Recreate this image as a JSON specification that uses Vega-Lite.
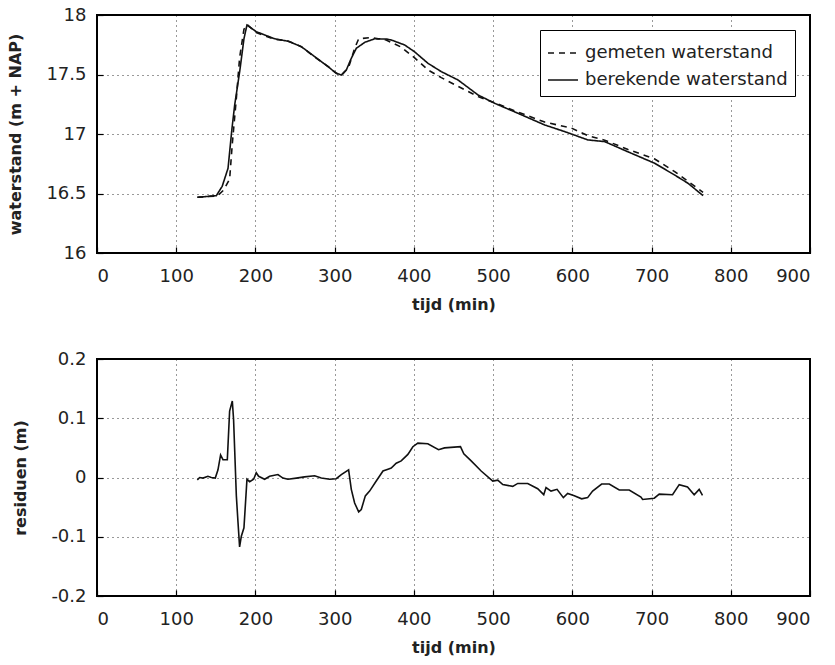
{
  "$schema": "https://vega.github.io/schema/vega-lite/v6.json",
  "background": "white",
  "padding": {"left": 6, "top": 5, "right": 5, "bottom": 5},
  "config": {
    "font": "DejaVu Sans",
    "view": {"stroke": "#000", "strokeWidth": 2},
    "axis": {
      "grid": true, "gridDash": [1, 4], "gridColor": "#000", "gridOpacity": 0.8, "gridWidth": 1,
      "domain": false, "ticks": true, "tickSize": -6, "tickColor": "#000", "tickWidth": 1.2,
      "labelFont": "DejaVu Sans", "labelFontSize": 18, "labelColor": "#222",
      "labelExpr": "'' + datum.value",
      "titleFont": "DejaVu Sans", "titleFontSize": 16, "titleFontWeight": "bold", "titleColor": "#222"
    },
    "axisX": {"labelPadding": 20, "titlePadding": 11},
    "axisY": {"labelPadding": 17, "titlePadding": 22},
    "legend": {"labelFont": "DejaVu Sans", "labelFontSize": 18, "labelColor": "#222"}
  },
  "datasets": {
    "waterstand": [
      {"t": 126.7, "v": 16.468, "serie": "berekende waterstand"},
      {"t": 150.6, "v": 16.482, "serie": "berekende waterstand"},
      {"t": 158, "v": 16.56, "serie": "berekende waterstand"},
      {"t": 165.4, "v": 16.712, "serie": "berekende waterstand"},
      {"t": 170.4, "v": 17.048, "serie": "berekende waterstand"},
      {"t": 173.8, "v": 17.244, "serie": "berekende waterstand"},
      {"t": 180.1, "v": 17.524, "serie": "berekende waterstand"},
      {"t": 185.6, "v": 17.804, "serie": "berekende waterstand"},
      {"t": 189.3, "v": 17.916, "serie": "berekende waterstand"},
      {"t": 201, "v": 17.86, "serie": "berekende waterstand"},
      {"t": 224.3, "v": 17.8, "serie": "berekende waterstand"},
      {"t": 241, "v": 17.78, "serie": "berekende waterstand"},
      {"t": 257.9, "v": 17.734, "serie": "berekende waterstand"},
      {"t": 274.8, "v": 17.65, "serie": "berekende waterstand"},
      {"t": 291.6, "v": 17.566, "serie": "berekende waterstand"},
      {"t": 302, "v": 17.51, "serie": "berekende waterstand"},
      {"t": 308.4, "v": 17.496, "serie": "berekende waterstand"},
      {"t": 314.7, "v": 17.538, "serie": "berekende waterstand"},
      {"t": 321, "v": 17.636, "serie": "berekende waterstand"},
      {"t": 327.3, "v": 17.72, "serie": "berekende waterstand"},
      {"t": 337.9, "v": 17.77, "serie": "berekende waterstand"},
      {"t": 350.5, "v": 17.8, "serie": "berekende waterstand"},
      {"t": 365.2, "v": 17.798, "serie": "berekende waterstand"},
      {"t": 371.5, "v": 17.79, "serie": "berekende waterstand"},
      {"t": 388.4, "v": 17.748, "serie": "berekende waterstand"},
      {"t": 401, "v": 17.69, "serie": "berekende waterstand"},
      {"t": 417.8, "v": 17.594, "serie": "berekende waterstand"},
      {"t": 434.6, "v": 17.524, "serie": "berekende waterstand"},
      {"t": 455.7, "v": 17.454, "serie": "berekende waterstand"},
      {"t": 481, "v": 17.328, "serie": "berekende waterstand"},
      {"t": 502, "v": 17.258, "serie": "berekende waterstand"},
      {"t": 531.4, "v": 17.174, "serie": "berekende waterstand"},
      {"t": 565.1, "v": 17.076, "serie": "berekende waterstand"},
      {"t": 590.4, "v": 17.02, "serie": "berekende waterstand"},
      {"t": 619.8, "v": 16.95, "serie": "berekende waterstand"},
      {"t": 640.9, "v": 16.936, "serie": "berekende waterstand"},
      {"t": 670.3, "v": 16.85, "serie": "berekende waterstand"},
      {"t": 704, "v": 16.754, "serie": "berekende waterstand"},
      {"t": 729.2, "v": 16.655, "serie": "berekende waterstand"},
      {"t": 746, "v": 16.586, "serie": "berekende waterstand"},
      {"t": 765, "v": 16.482, "serie": "berekende waterstand"},
      {"t": 126.7, "v": 16.468, "serie": "gemeten waterstand"},
      {"t": 152, "v": 16.48, "serie": "gemeten waterstand"},
      {"t": 160, "v": 16.53, "serie": "gemeten waterstand"},
      {"t": 167.4, "v": 16.62, "serie": "gemeten waterstand"},
      {"t": 170.8, "v": 16.92, "serie": "gemeten waterstand"},
      {"t": 175.9, "v": 17.3, "serie": "gemeten waterstand"},
      {"t": 180, "v": 17.64, "serie": "gemeten waterstand"},
      {"t": 185.5, "v": 17.88, "serie": "gemeten waterstand"},
      {"t": 189.3, "v": 17.92, "serie": "gemeten waterstand"},
      {"t": 201, "v": 17.852, "serie": "gemeten waterstand"},
      {"t": 224.3, "v": 17.796, "serie": "gemeten waterstand"},
      {"t": 241, "v": 17.782, "serie": "gemeten waterstand"},
      {"t": 257.9, "v": 17.734, "serie": "gemeten waterstand"},
      {"t": 274.8, "v": 17.647, "serie": "gemeten waterstand"},
      {"t": 291.6, "v": 17.568, "serie": "gemeten waterstand"},
      {"t": 302, "v": 17.512, "serie": "gemeten waterstand"},
      {"t": 308.4, "v": 17.492, "serie": "gemeten waterstand"},
      {"t": 317.6, "v": 17.56, "serie": "gemeten waterstand"},
      {"t": 325.2, "v": 17.72, "serie": "gemeten waterstand"},
      {"t": 330.3, "v": 17.8, "serie": "gemeten waterstand"},
      {"t": 346, "v": 17.81, "serie": "gemeten waterstand"},
      {"t": 365, "v": 17.79, "serie": "gemeten waterstand"},
      {"t": 384, "v": 17.73, "serie": "gemeten waterstand"},
      {"t": 401, "v": 17.64, "serie": "gemeten waterstand"},
      {"t": 417.8, "v": 17.538, "serie": "gemeten waterstand"},
      {"t": 434.6, "v": 17.474, "serie": "gemeten waterstand"},
      {"t": 455.7, "v": 17.4, "serie": "gemeten waterstand"},
      {"t": 481, "v": 17.315, "serie": "gemeten waterstand"},
      {"t": 502, "v": 17.262, "serie": "gemeten waterstand"},
      {"t": 531.4, "v": 17.184, "serie": "gemeten waterstand"},
      {"t": 565.1, "v": 17.1, "serie": "gemeten waterstand"},
      {"t": 598.9, "v": 17.05, "serie": "gemeten waterstand"},
      {"t": 619.8, "v": 16.985, "serie": "gemeten waterstand"},
      {"t": 640.9, "v": 16.948, "serie": "gemeten waterstand"},
      {"t": 670.3, "v": 16.87, "serie": "gemeten waterstand"},
      {"t": 704, "v": 16.79, "serie": "gemeten waterstand"},
      {"t": 729.2, "v": 16.684, "serie": "gemeten waterstand"},
      {"t": 746, "v": 16.602, "serie": "gemeten waterstand"},
      {"t": 765, "v": 16.51, "serie": "gemeten waterstand"}
    ],
    "residu": [
      {"t": 126.6, "r": -0.004}, {"t": 129.6, "r": 0.0}, {"t": 133.8, "r": -0.001}, {"t": 140, "r": 0.002},
      {"t": 144.3, "r": 0.0}, {"t": 149.3, "r": -0.001}, {"t": 152.7, "r": 0.013}, {"t": 156, "r": 0.038},
      {"t": 159, "r": 0.03}, {"t": 164.5, "r": 0.03}, {"t": 167.4, "r": 0.112}, {"t": 170.8, "r": 0.129},
      {"t": 172.4, "r": 0.098}, {"t": 175.9, "r": -0.031}, {"t": 178, "r": -0.076}, {"t": 180, "r": -0.117},
      {"t": 182.2, "r": -0.099}, {"t": 185.5, "r": -0.085}, {"t": 189.3, "r": -0.003}, {"t": 192.7, "r": -0.007},
      {"t": 197.7, "r": -0.003}, {"t": 201, "r": 0.008}, {"t": 204, "r": 0.002}, {"t": 211.6, "r": -0.003},
      {"t": 217.9, "r": 0.002}, {"t": 228.4, "r": 0.005}, {"t": 234.7, "r": -0.001}, {"t": 241, "r": -0.003},
      {"t": 251.6, "r": -0.001}, {"t": 262, "r": 0.001}, {"t": 274.7, "r": 0.003}, {"t": 283.1, "r": -0.001},
      {"t": 293.6, "r": -0.003}, {"t": 302, "r": -0.002}, {"t": 308.4, "r": 0.005}, {"t": 317.6, "r": 0.013},
      {"t": 321, "r": -0.02}, {"t": 325.2, "r": -0.043}, {"t": 330.3, "r": -0.058}, {"t": 333.6, "r": -0.054},
      {"t": 338.7, "r": -0.031}, {"t": 344.1, "r": -0.023}, {"t": 352.5, "r": -0.006}, {"t": 361, "r": 0.011},
      {"t": 367.3, "r": 0.014}, {"t": 371.4, "r": 0.016}, {"t": 377.7, "r": 0.024}, {"t": 384, "r": 0.028},
      {"t": 392.4, "r": 0.039}, {"t": 398.7, "r": 0.052}, {"t": 405, "r": 0.058}, {"t": 417.6, "r": 0.057},
      {"t": 431.1, "r": 0.047}, {"t": 438.7, "r": 0.05}, {"t": 458.8, "r": 0.052}, {"t": 463, "r": 0.04},
      {"t": 472.3, "r": 0.028}, {"t": 484.9, "r": 0.011}, {"t": 499.6, "r": -0.006}, {"t": 505.9, "r": -0.0045},
      {"t": 512.2, "r": -0.012}, {"t": 524.8, "r": -0.015}, {"t": 531.1, "r": -0.01}, {"t": 543.7, "r": -0.01},
      {"t": 556.3, "r": -0.019}, {"t": 563.9, "r": -0.029}, {"t": 566.8, "r": -0.017}, {"t": 573.1, "r": -0.023},
      {"t": 580.7, "r": -0.02}, {"t": 588.7, "r": -0.034}, {"t": 594.1, "r": -0.027}, {"t": 602.5, "r": -0.031},
      {"t": 611.8, "r": -0.036}, {"t": 619.3, "r": -0.034}, {"t": 625.6, "r": -0.023}, {"t": 637, "r": -0.011},
      {"t": 646.6, "r": -0.011}, {"t": 659.2, "r": -0.021}, {"t": 671.8, "r": -0.021}, {"t": 686.6, "r": -0.033},
      {"t": 688.7, "r": -0.037}, {"t": 703.4, "r": -0.035}, {"t": 709.7, "r": -0.028}, {"t": 726.5, "r": -0.029},
      {"t": 734.9, "r": -0.012}, {"t": 745.4, "r": -0.016}, {"t": 753.8, "r": -0.029}, {"t": 760.1, "r": -0.02},
      {"t": 764.3, "r": -0.03}
    ]
  },
  "bounds": "flush",
  "spacing": 106,
  "vconcat": [
    {
      "width": 713, "height": 238,
      "data": {"name": "waterstand"},
      "mark": {"type": "line", "color": "#111", "strokeWidth": 1.6},
      "encoding": {
        "x": {"field": "t", "type": "quantitative", "title": "tijd (min)",
              "scale": {"domain": [0, 900], "nice": false},
              "axis": {"values": [0, 100, 200, 300, 400, 500, 600, 700, 800, 900]}},
        "y": {"field": "v", "type": "quantitative", "title": "waterstand (m + NAP)",
              "scale": {"domain": [16, 18], "nice": false, "zero": false},
              "axis": {"values": [16, 16.5, 17, 17.5, 18]}},
        "strokeDash": {"field": "serie", "type": "nominal",
          "scale": {"domain": ["gemeten waterstand", "berekende waterstand"], "range": [[6, 5], [1, 0]]},
          "legend": {"title": null, "orient": "top-right", "offset": 15,
            "strokeColor": "#000", "fillColor": "white", "padding": 7,
            "symbolType": "stroke", "symbolSize": 900, "symbolStrokeColor": "#111", "symbolStrokeWidth": 1.6,
            "labelFontSize": 18, "labelLimit": 400, "labelOffset": 6, "rowPadding": 2}}
      }
    },
    {
      "width": 713, "height": 237,
      "data": {"name": "residu"},
      "mark": {"type": "line", "color": "#111", "strokeWidth": 1.6},
      "encoding": {
        "x": {"field": "t", "type": "quantitative", "title": "tijd (min)",
              "scale": {"domain": [0, 900], "nice": false},
              "axis": {"values": [0, 100, 200, 300, 400, 500, 600, 700, 800, 900]}},
        "y": {"field": "r", "type": "quantitative", "title": "residuen (m)",
              "scale": {"domain": [-0.2, 0.2], "nice": false},
              "axis": {"values": [-0.2, -0.1, 0, 0.1, 0.2]}}
      }
    }
  ]
}
